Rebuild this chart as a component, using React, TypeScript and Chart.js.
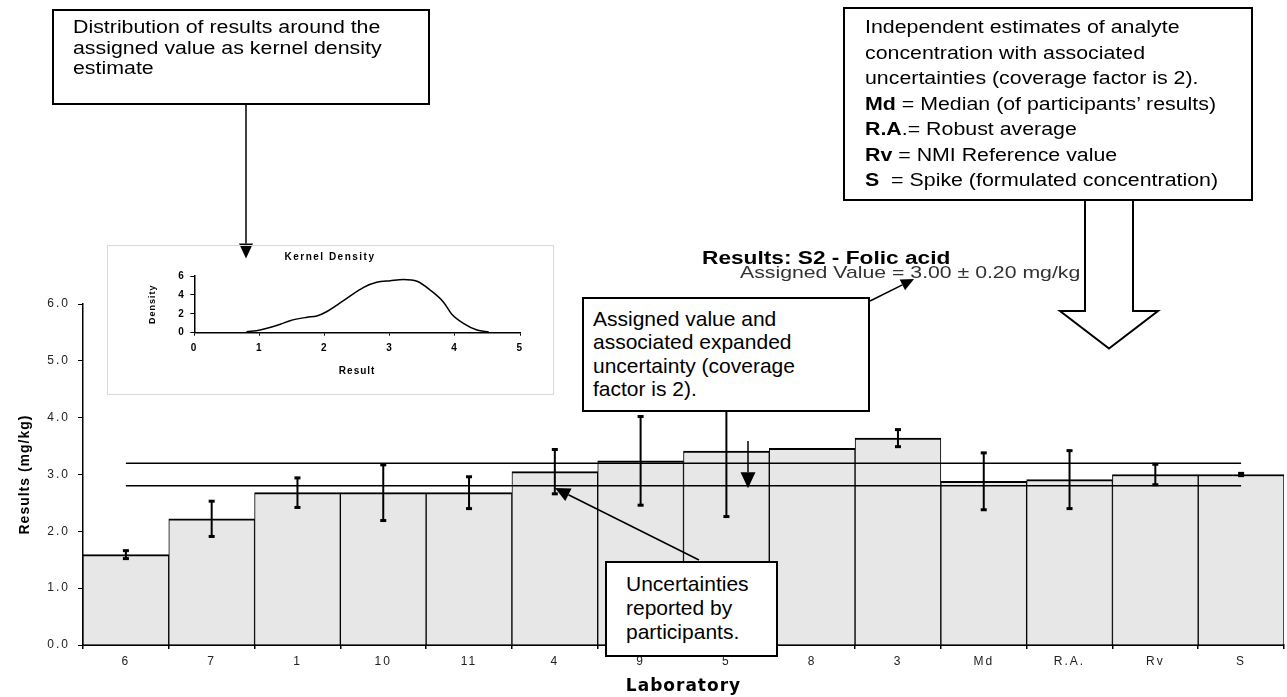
import React, { useEffect, useRef } from 'react';
import { Chart, registerables } from 'chart.js';

Chart.register(...registerables);

// ---------- data ----------
const categories = ['6', '7', '1', '10', '11', '4', '9', '5', '8', '3', 'Md', 'R.A.', 'Rv', 'S'];
const results = [1.59, 2.22, 2.68, 2.68, 2.68, 3.05, 3.24, 3.41, 3.46, 3.64, 2.88, 2.91, 3.0, 3.0];
const uncertainties = [0.07, 0.31, 0.26, 0.49, 0.28, 0.39, 0.78, 1.15, 0, 0.15, 0.5, 0.51, 0.18, 0.02];
const assignedValue = 3.0;
const assignedU = 0.2;

const kdeX = [0.8, 1.01, 1.32, 1.47, 1.73, 1.88, 2.03, 2.29, 2.6, 2.8, 3.01, 3.21, 3.42, 3.62, 3.82, 3.95, 4.13, 4.34, 4.52];
const kdeY = [0.1, 0.29, 0.89, 1.27, 1.63, 1.77, 2.22, 3.39, 4.8, 5.33, 5.5, 5.63, 5.44, 4.52, 3.28, 1.98, 0.99, 0.29, 0.08];

const xTitle = 'Laboratory';
const yTitle = 'Results (mg/kg)';
const chartTitle = 'Results: S2 - Folic acid';
const assignedText = 'Assigned Value = 3.00 ± 0.20 mg/kg';
const kdeTitle = 'Kernel Density';
const kdeXTitle = 'Result';
const kdeYTitle = 'Density';

const distributionLines = [
  'Distribution of results around the',
  'assigned value as kernel density',
  'estimate',
];
const legendIntro = [
  'Independent estimates of analyte',
  'concentration with associated',
  'uncertainties (coverage factor is 2).',
];
const legendDefs = [
  ['Md', ' = Median (of participants\u2019 results)'],
  ['R.A', '.= Robust average'],
  ['Rv', ' = NMI Reference value'],
  ['S', '  = Spike (formulated concentration)'],
];
const assignedLines = ['Assigned value and', 'associated expanded', 'uncertainty (coverage', 'factor is 2).'];
const uncertaintyLines = ['Uncertainties', 'reported by', 'participants.'];

const FONT = "'Liberation Sans', Arial, sans-serif";

// titles are drawn (z=0 layer) with titleSpacing, tick labels (z=1 layer) with tickSpacing
function spacingPlugin(titleSpacing: string, tickSpacing: string) {
  return {
    id: 'spacing',
    beforeDraw(c: any) {
      c.ctx.letterSpacing = titleSpacing;
    },
    afterDatasetsDraw(c: any) {
      c.ctx.letterSpacing = tickSpacing;
    },
    afterDraw(c: any) {
      c.ctx.letterSpacing = '0px';
    },
  };
}

function drawArrow(ctx: CanvasRenderingContext2D, x1: number, y1: number, x2: number, y2: number, len: number, half: number) {
  const a = Math.atan2(y2 - y1, x2 - x1);
  const bx = x2 - Math.cos(a) * len;
  const by = y2 - Math.sin(a) * len;
  ctx.beginPath();
  ctx.moveTo(x1, y1);
  ctx.lineTo(bx, by);
  ctx.stroke();
  ctx.beginPath();
  ctx.moveTo(x2, y2);
  ctx.lineTo(bx + Math.sin(a) * half, by - Math.cos(a) * half);
  ctx.lineTo(bx - Math.sin(a) * half, by + Math.cos(a) * half);
  ctx.closePath();
  ctx.fill();
}

const errorBarPlugin = {
  id: 'errorBars',
  afterDatasetsDraw(c: any) {
    const { ctx, scales } = c;
    ctx.save();
    ctx.strokeStyle = '#000';
    ctx.fillStyle = '#000';
    ctx.lineWidth = 2;
    results.forEach((v, i) => {
      const u = uncertainties[i];
      if (!u) return;
      const x = scales.x.getPixelForValue(i);
      const yT = scales.y.getPixelForValue(v + u);
      const yB = scales.y.getPixelForValue(v - u);
      ctx.beginPath();
      ctx.moveTo(x, yT);
      ctx.lineTo(x, yB);
      ctx.stroke();
      ctx.fillRect(x - 3, yT - 1.5, 6, 3);
      ctx.fillRect(x - 3, yB - 1.5, 6, 3);
    });
    ctx.restore();
  },
};

const annotationPlugin = {
  id: 'annotations',
  afterDraw(c: any) {
    const ctx = c.ctx as CanvasRenderingContext2D;
    ctx.save();
    ctx.strokeStyle = '#000';
    ctx.fillStyle = '#000';
    ctx.lineWidth = 1.5;
    drawArrow(ctx, 246, 105, 246, 258.5, 15, 7);
    drawArrow(ctx, 870, 301, 914, 279, 13, 6);
    drawArrow(ctx, 699, 560, 555, 488, 15, 7);
    const yLow = c.scales.y.getPixelForValue(assignedValue - assignedU);
    drawArrow(ctx, 748, 441, 748, yLow + 2.5, 16, 7.5);
    // hollow arrow under the legend box
    ctx.beginPath();
    ctx.moveTo(1085, 201);
    ctx.lineTo(1085, 311);
    ctx.lineTo(1060, 311);
    ctx.lineTo(1109, 348.5);
    ctx.lineTo(1158, 311);
    ctx.lineTo(1133, 311);
    ctx.lineTo(1133, 201);
    ctx.fillStyle = '#fff';
    ctx.fill();
    ctx.lineWidth = 2;
    ctx.stroke();
    ctx.restore();
  },
};

const kdeTitlePlugin = {
  id: 'kdeTitle',
  afterDraw(c: any) {
    const ctx = c.ctx;
    ctx.save();
    ctx.letterSpacing = '1.5px';
    ctx.font = `bold 10px ${FONT}`;
    ctx.fillStyle = '#000';
    ctx.textAlign = 'center';
    ctx.textBaseline = 'middle';
    ctx.fillText(kdeTitle, 222, 11.7);
    ctx.restore();
  },
};

function Box(props: any) {
  const { left, top, width, height, padLeft, padTop, lineHeight, fontSize, scaleX, children } = props;
  return (
    <div
      style={{
        position: 'absolute',
        left,
        top,
        width,
        height,
        boxSizing: 'border-box',
        border: '2px solid #000',
        background: '#fff',
        paddingLeft: padLeft,
        paddingTop: padTop,
        fontSize,
        lineHeight: lineHeight + 'px',
        color: '#000',
        whiteSpace: 'pre',
        fontFamily: FONT,
      }}
    >
      {React.Children.map(children, (ch: any, i: number) => (
        <div key={i} style={{ transform: `scaleX(${scaleX})`, transformOrigin: 'left center' }}>
          {ch}
        </div>
      ))}
    </div>
  );
}

export default function App() {
  const mainRef = useRef<HTMLCanvasElement>(null);
  const kdeRef = useRef<HTMLCanvasElement>(null);

  useEffect(() => {
    Chart.defaults.font.family = FONT;
    const main = new Chart(mainRef.current as HTMLCanvasElement, {
      type: 'bar',
      data: {
        labels: categories,
        datasets: [
          {
            type: 'line',
            data: categories.map(() => assignedValue + assignedU),
            borderColor: '#000',
            borderWidth: 1.5,
            pointRadius: 0,
            fill: false,
            order: 1,
          } as any,
          {
            type: 'line',
            data: categories.map(() => assignedValue - assignedU),
            borderColor: '#000',
            borderWidth: 1.5,
            pointRadius: 0,
            fill: false,
            order: 1,
          } as any,
          {
            type: 'bar',
            data: results,
            backgroundColor: '#e7e7e7',
            borderColor: '#000',
            borderWidth: { top: 2, left: 1, right: 1, bottom: 0 },
            barPercentage: 1,
            categoryPercentage: 1,
            order: 2,
          } as any,
        ],
      },
      options: {
        responsive: false,
        animation: false,
        devicePixelRatio: 1,
        layout: { padding: { top: 304, right: 3, left: 0, bottom: 0 } },
        plugins: { legend: { display: false }, tooltip: { enabled: false }, title: { display: false } },
        scales: {
          x: {
            type: 'category',
            offset: true,
            grid: { display: true, offset: true, drawOnChartArea: false, drawTicks: true, tickLength: 4, color: '#000', lineWidth: 1.5 },
            border: { display: true, color: '#000', width: 2 },
            ticks: { color: '#222', font: { size: 12 }, padding: 5, maxRotation: 0, autoSkip: false, z: 1 },
            title: {
              display: true,
              text: xTitle,
              color: '#000',
              font: { family: "'DejaVu Sans', sans-serif", size: 17, weight: 'bold' },
              padding: { top: 0, bottom: 0 },
            },
            afterFit: (s: any) => {
              s.height = 52;
              s.paddingLeft = 0;
              s.paddingRight = 0;
            },
          },
          y: {
            type: 'linear',
            min: 0,
            max: 6,
            ticks: { stepSize: 1, callback: (v: any) => Number(v).toFixed(1), color: '#222', font: { size: 12 }, padding: 8, z: 1 },
            grid: { drawOnChartArea: false, drawTicks: true, tickLength: 5, color: '#000', lineWidth: 1 },
            border: { display: true, color: '#000', width: 1.5 },
            title: {
              display: true,
              text: yTitle,
              color: '#000',
              font: { size: 14, weight: 'bold' },
              padding: { top: 17, bottom: 0 },
            },
            afterFit: (s: any) => {
              s.width = 83;
              s.paddingTop = 0;
              s.paddingBottom = 0;
            },
          },
        },
      } as any,
      plugins: [spacingPlugin('1px', '2px'), errorBarPlugin, annotationPlugin],
    });

    const kde = new Chart(kdeRef.current as HTMLCanvasElement, {
      type: 'line',
      data: {
        datasets: [
          {
            data: kdeX.map((x, i) => ({ x, y: kdeY[i] })),
            borderColor: '#000',
            borderWidth: 1.5,
            pointRadius: 0,
            cubicInterpolationMode: 'monotone',
            fill: false,
          } as any,
        ],
      },
      options: {
        responsive: false,
        animation: false,
        devicePixelRatio: 1,
        layout: { padding: { top: 30, right: 33, left: 0, bottom: 0 } },
        plugins: { legend: { display: false }, tooltip: { enabled: false } },
        scales: {
          x: {
            type: 'linear',
            min: 0,
            max: 5,
            ticks: { stepSize: 1, color: '#000', font: { size: 10, weight: 'bold' }, padding: 7, z: 1 },
            grid: { drawOnChartArea: false, drawTicks: true, tickLength: 3, color: '#000' },
            border: { display: true, color: '#000', width: 1.5 },
            title: { display: true, text: kdeXTitle, color: '#000', font: { size: 10, weight: 'bold' }, padding: { top: 0, bottom: 17 } },
            afterFit: (s: any) => {
              s.height = 61.3;
              s.paddingLeft = 0;
              s.paddingRight = 0;
            },
          },
          y: {
            type: 'linear',
            min: 0,
            max: 6,
            ticks: { stepSize: 2, color: '#000', font: { size: 10, weight: 'bold' }, padding: 5, z: 1 },
            grid: { drawOnChartArea: false, drawTicks: true, tickLength: 4, color: '#000' },
            border: { display: true, color: '#000', width: 1.5 },
            title: { display: true, text: kdeYTitle, color: '#000', font: { size: 9, weight: 'bold' }, padding: { top: 39, bottom: 0 } },
            afterFit: (s: any) => {
              s.width = 86.3;
              s.paddingTop = 0;
              s.paddingBottom = 0;
            },
          },
        },
      } as any,
      plugins: [spacingPlugin('1px', '1.5px'), kdeTitlePlugin],
    });

    return () => {
      main.destroy();
      kde.destroy();
    };
  }, []);

  return (
    <div
      style={{
        position: 'absolute',
        left: 0,
        top: 0,
        width: 1287,
        height: 697,
        overflow: 'hidden',
        background: '#fff',
        fontFamily: FONT,
      }}
    >
      <canvas ref={mainRef} width={1287} height={697} style={{ position: 'absolute', left: 0, top: 0 }} />
      <div
        style={{
          position: 'absolute',
          left: 107,
          top: 245,
          width: 447,
          height: 150,
          boxSizing: 'border-box',
          border: '1px solid #d9d9d9',
        }}
      >
        <canvas ref={kdeRef} width={445} height={148} style={{ display: 'block' }} />
      </div>

      <div
        style={{
          position: 'absolute',
          left: 702,
          top: 248,
          fontSize: 18,
          fontWeight: 'bold',
          lineHeight: '20px',
          whiteSpace: 'nowrap',
          transform: 'scaleX(1.26)',
          transformOrigin: 'left center',
          color: '#000',
        }}
      >
        {chartTitle}
      </div>
      <div
        style={{
          position: 'absolute',
          left: 740,
          top: 263,
          fontSize: 17,
          lineHeight: '20px',
          whiteSpace: 'nowrap',
          transform: 'scaleX(1.25)',
          transformOrigin: 'left center',
          color: '#333',
        }}
      >
        {assignedText}
      </div>

      <Box left={52} top={9} width={378} height={96} padLeft={19} padTop={6} lineHeight={20.5} fontSize={17.5} scaleX={1.22}>
        {distributionLines.map((l) => (
          <span>{l}</span>
        ))}
      </Box>

      <Box left={843} top={7} width={410} height={194} padLeft={20} padTop={6} lineHeight={25.5} fontSize={17.5} scaleX={1.22}>
        {[
          ...legendIntro.map((l) => <span>{l}</span>),
          ...legendDefs.map(([b, r]) => (
            <span>
              <b>{b}</b>
              {r}
            </span>
          )),
        ]}
      </Box>

      <Box left={582} top={297} width={288} height={115} padLeft={9} padTop={8} lineHeight={23.3} fontSize={21} scaleX={1}>
        {assignedLines.map((l) => (
          <span>{l}</span>
        ))}
      </Box>

      <Box left={605} top={561} width={173} height={96} padLeft={19} padTop={8.5} lineHeight={24} fontSize={21} scaleX={1}>
        {uncertaintyLines.map((l) => (
          <span>{l}</span>
        ))}
      </Box>
    </div>
  );
}
